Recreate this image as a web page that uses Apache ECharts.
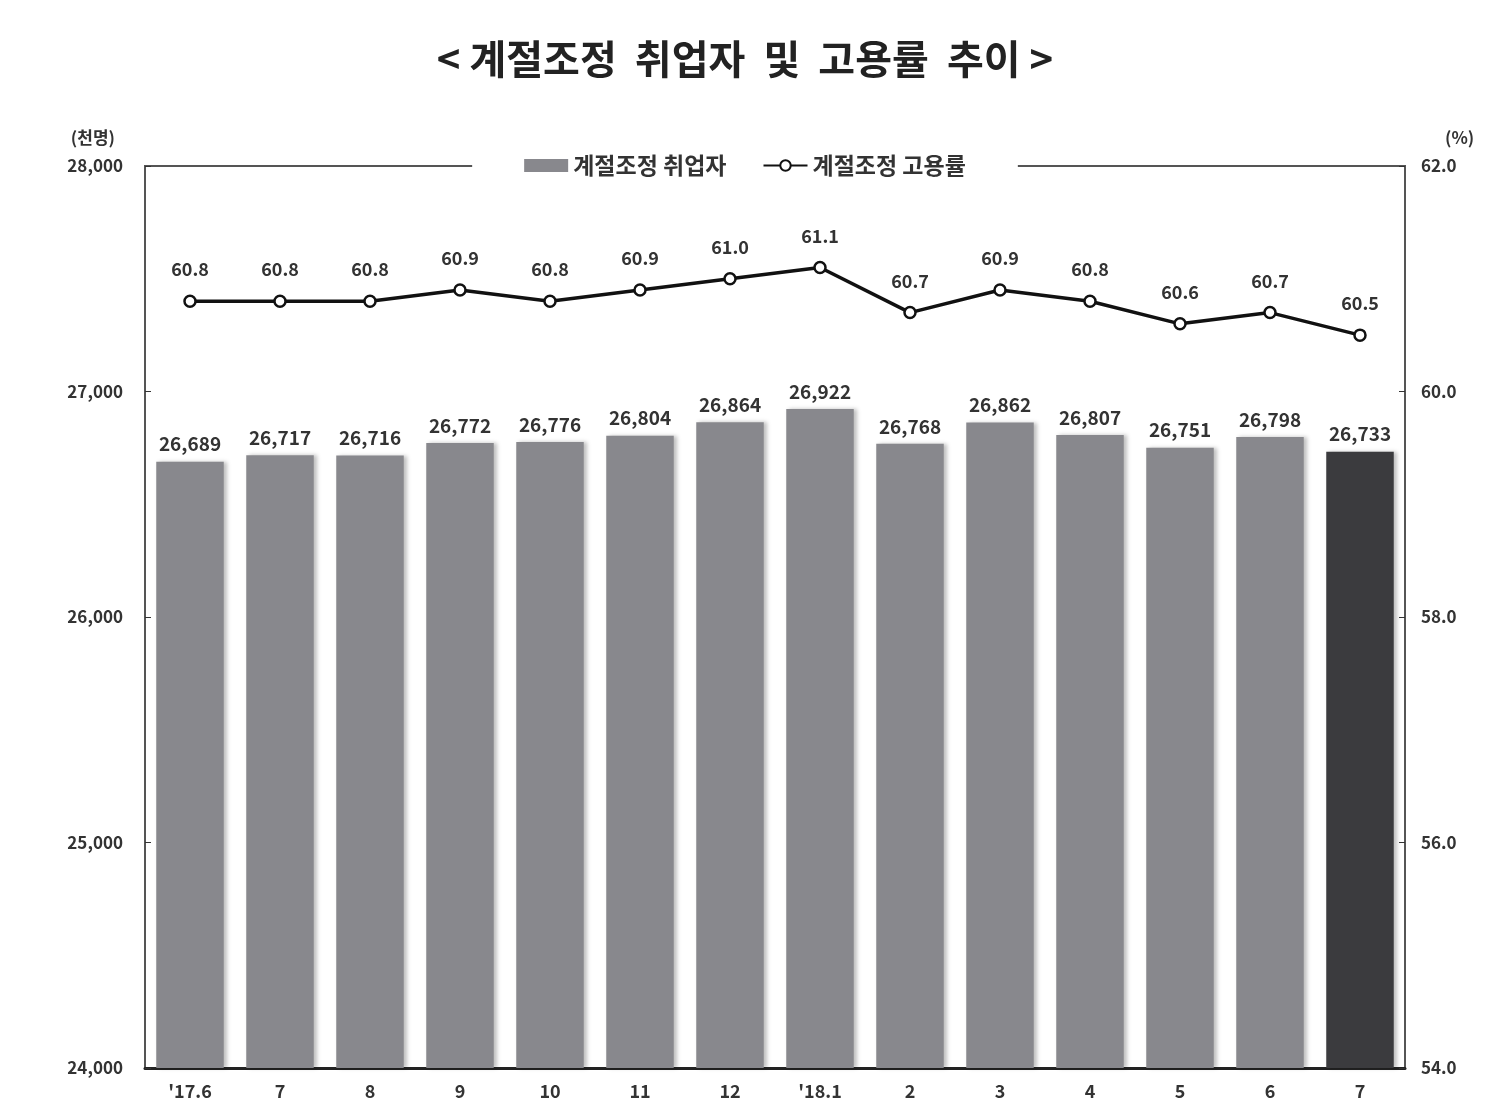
<!DOCTYPE html>
<html style="height: 100%">
  <head>
    <meta charset="UTF-8" />
    <title>ECharts</title>
    <script src="https://cdn.jsdelivr.net/npm/echarts/dist/echarts.min.js"></script>
  </head>
  <body style="height: 100%; margin: 0; background: #fff">
    <div id="main" style="width: 1490px; height: 1107px"></div>
    <script>
      var months = ["'17.6", '7', '8', '9', '10', '11', '12', "'18.1", '2', '3', '4', '5', '6', '7'];
      var employed = [26689, 26717, 26716, 26772, 26776, 26804, 26864, 26922, 26768, 26862, 26807, 26751, 26798, 26733];
      var empRate = [60.8, 60.8, 60.8, 60.9, 60.8, 60.9, 61.0, 61.1, 60.7, 60.9, 60.8, 60.6, 60.7, 60.5];

      var font = '"Noto Sans CJK KR", sans-serif';
      var chart = echarts.init(document.getElementById('main'));

      var barData = employed.map(function (v, i) {
        return {
          value: v,
          itemStyle: { color: i === employed.length - 1 ? '#3b3b3e' : '#88888d' }
        };
      });

      var option = {
        backgroundColor: '#fff',
        animation: false,
        title: {
          text: '< 계절조정  취업자  및  고용률  추이 >',
          left: 'center',
          top: 34,
          textStyle: { fontFamily: font, fontSize: 40, fontWeight: 'bold', color: '#222' }
        },
        legend: {
          top: 148,
          left: 'center',
          itemGap: 36,
          backgroundColor: '#fff',
          padding: [6, 52],
          z: 10,
          textStyle: { fontFamily: font, fontSize: 23, fontWeight: 'bold', color: '#333' },
          data: [
            { name: '계절조정 취업자', icon: 'rect', itemStyle: { color: '#88888d' } },
            { name: '계절조정 고용률' }
          ],
          itemWidth: 44,
          itemHeight: 13
        },
        grid: {
          left: 145,
          right: 85,
          top: 166,
          bottom: 39,
          show: true,
          borderColor: '#555',
          borderWidth: 2,
          backgroundColor: 'transparent'
        },
        xAxis: {
          type: 'category',
          data: months,
          axisLine: { lineStyle: { color: '#222', width: 3 } },
          axisTick: { show: false },
          axisLabel: { fontFamily: font, fontSize: 18, fontWeight: 'bold', color: '#333', margin: 14 }
        },
        yAxis: [
          {
            type: 'value',
            name: '(천명)',
            nameLocation: 'end',
            nameGap: 20,
            nameTextStyle: { fontFamily: font, fontSize: 17, fontWeight: 'bold', color: '#333', align: 'right', padding: [0, 30, 0, 0] },
            min: 24000,
            max: 28000,
            interval: 1000,
            axisLine: { show: true, lineStyle: { color: '#555', width: 2 } },
            axisTick: { show: true, inside: true, length: 6, lineStyle: { color: '#333' } },
            splitLine: { show: false },
            axisLabel: {
              fontFamily: font,
              fontSize: 17,
              fontWeight: 'bold',
              color: '#333',
              margin: 22,
              formatter: function (v) { return echarts.format.addCommas(v); }
            }
          },
          {
            type: 'value',
            name: '(%)',
            nameLocation: 'end',
            nameGap: 20,
            nameTextStyle: { fontFamily: font, fontSize: 17, fontWeight: 'bold', color: '#333', align: 'left', padding: [0, 0, 0, 40] },
            min: 54,
            max: 62,
            interval: 2,
            axisLine: { show: true, lineStyle: { color: '#555', width: 2 } },
            axisTick: { show: true, inside: true, length: 6, lineStyle: { color: '#333' } },
            splitLine: { show: false },
            axisLabel: {
              fontFamily: font,
              fontSize: 17,
              fontWeight: 'bold',
              color: '#333',
              margin: 16,
              formatter: function (v) { return v.toFixed(1); }
            }
          }
        ],
        series: [
          {
            name: '계절조정 취업자',
            type: 'bar',
            barWidth: '75%',
            data: barData,
            itemStyle: {
              shadowColor: 'rgba(0,0,0,0.25)',
              shadowBlur: 4,
              shadowOffsetX: 3
            },
            label: {
              show: true,
              position: 'top',
              distance: 8,
              fontFamily: font,
              fontSize: 19,
              fontWeight: 'bold',
              color: '#333',
              formatter: function (p) { return echarts.format.addCommas(p.value); }
            }
          },
          {
            name: '계절조정 고용률',
            type: 'line',
            yAxisIndex: 1,
            data: empRate,
            symbol: 'circle',
            symbolSize: 11,
            lineStyle: { color: '#111', width: 3.5 },
            itemStyle: { color: '#fff', borderColor: '#111', borderWidth: 2.5 },
            label: {
              show: true,
              position: 'top',
              distance: 16,
              fontFamily: font,
              fontSize: 18,
              fontWeight: 'bold',
              color: '#333',
              formatter: function (p) { return p.value.toFixed(1); }
            }
          }
        ]
      };

      chart.setOption(option);
    </script>
  </body>
</html>
